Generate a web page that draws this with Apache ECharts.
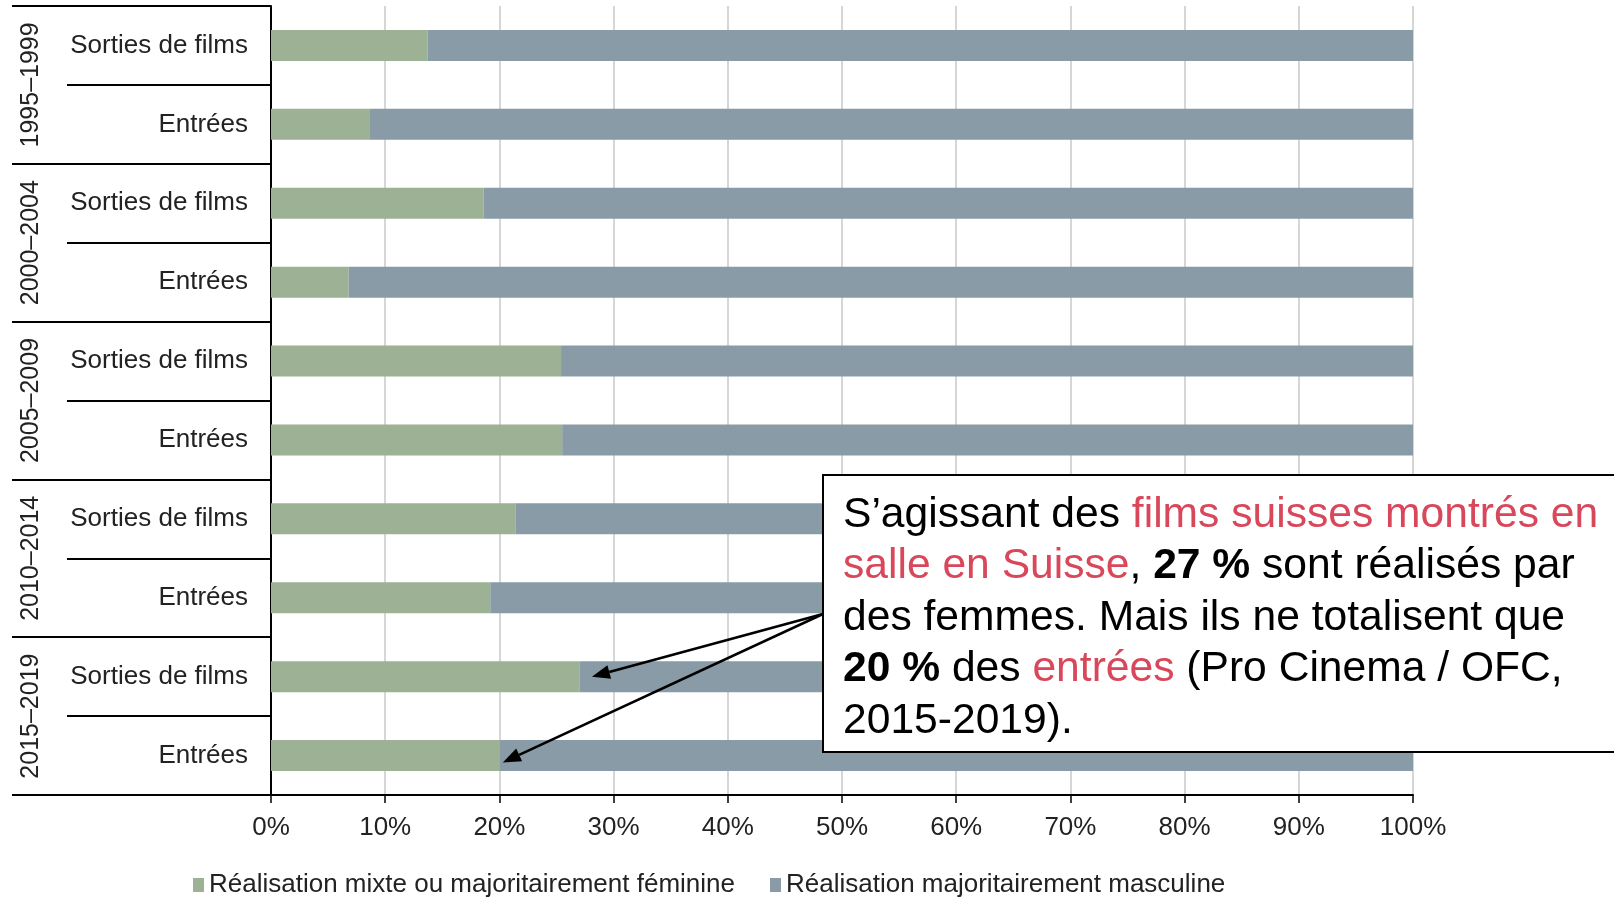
<!DOCTYPE html>
<html>
<head>
<meta charset="utf-8">
<script src="https://cdn.jsdelivr.net/npm/echarts@6/dist/echarts.min.js"></script>
<style>
  html, body { margin: 0; padding: 0; background: #fff; }
  #chart { width: 1614px; height: 897px; }
</style>
</head>
<body>
<div id="chart"></div>
<script>
// categories, top to bottom
var groups = ['1995–1999', '2000–2004', '2005–2009', '2010–2014', '2015–2019'];
var rows = ['Sorties de films', 'Entrées', 'Sorties de films', 'Entrées', 'Sorties de films',
            'Entrées', 'Sorties de films', 'Entrées', 'Sorties de films', 'Entrées'];
// share in %
var feminine = [13.7, 8.6, 18.6, 6.8, 25.4, 25.5, 21.4, 19.2, 27.0, 20.0];
var masculine = [86.3, 91.4, 81.4, 93.2, 74.6, 74.5, 78.6, 80.8, 73.0, 80.0];
var seriesNames = ['Réalisation mixte ou majoritairement féminine', 'Réalisation majoritairement masculine'];
var xTicks = [0, 10, 20, 30, 40, 50, 60, 70, 80, 90, 100];

var FONT = '"Liberation Sans", Arial, sans-serif';
var rowIds = rows.map(function (r, i) { return i; });

var chart = echarts.init(document.getElementById('chart'));

var option = {
  animation: false,
  textStyle: { fontFamily: FONT },
  grid: { left: 271, right: 201, top: 6, bottom: 102, containLabel: false },
  legend: {
    left: 188, top: 867,
    itemWidth: 11, itemHeight: 14, itemGap: 35,
    icon: 'rect',
    textStyle: { fontSize: 26, color: '#222', fontFamily: FONT },
    data: seriesNames
  },
  xAxis: {
    type: 'value', min: xTicks[0], max: xTicks[xTicks.length - 1], interval: 10,
    axisLine: { show: true, lineStyle: { color: '#000', width: 2 } },
    axisTick: { show: true, length: 8, lineStyle: { color: '#000', width: 1.5 } },
    axisLabel: { formatter: '{value}%', fontSize: 26, color: '#222', margin: 20, fontFamily: FONT },
    splitLine: { show: true, lineStyle: { color: '#d6d6d6', width: 2 } }
  },
  yAxis: [{
    type: 'category', inverse: true, data: rowIds, position: 'left',
    axisLine: { show: true, onZero: false, lineStyle: { color: '#000', width: 2 } },
    axisTick: { show: true, length: 204, interval: 0, lineStyle: { color: '#000', width: 2 } },
    axisLabel: {
      fontSize: 26, color: '#222', margin: 23, fontFamily: FONT, padding: [6, 0, 0, 0], interval: 0,
      formatter: function (v) { return rows[v]; }
    }
  }, {
    type: 'category', inverse: true, data: groups, position: 'left', offset: 0,
    axisLine: { show: false },
    axisTick: { show: true, length: 259, interval: 0, lineStyle: { color: '#000', width: 2 } },
    axisLabel: { rotate: 90, fontSize: 25, color: '#222', margin: 227, fontFamily: FONT, interval: 0 }
  }],
  series: [{
    name: seriesNames[0], type: 'bar', stack: 'total', yAxisIndex: 0,
    barWidth: 31, itemStyle: { color: '#9db194' }, data: feminine
  }, {
    name: seriesNames[1], type: 'bar', stack: 'total', yAxisIndex: 0,
    barWidth: 31, itemStyle: { color: '#889ba6' }, data: masculine
  }]
};

chart.setOption(option);

// annotation box with arrows pointing to the 2015-2019 bars
var boxX = 823, boxY = 475, boxH = 277;
var start = [boxX, 614];
var tip1 = chart.convertToPixel({ xAxisIndex: 0, yAxisIndex: 0 }, [28.1, 8]);
var tip2 = chart.convertToPixel({ xAxisIndex: 0, yAxisIndex: 0 }, [20.3, 9]);
tip2[1] += 7;

function arrow(id, from, to) {
  var dx = to[0] - from[0], dy = to[1] - from[1];
  var len = Math.sqrt(dx * dx + dy * dy);
  var ux = dx / len, uy = dy / len;
  var hl = 18, hw = 7;
  var bx = to[0] - ux * hl, by = to[1] - uy * hl;
  return [{
    type: 'line', id: id + 'l', z: 110,
    shape: { x1: from[0], y1: from[1], x2: bx, y2: by },
    style: { stroke: '#000', lineWidth: 2.5 }
  }, {
    type: 'polygon', id: id + 'h', z: 110,
    shape: { points: [[to[0], to[1]], [bx - uy * hw, by + ux * hw], [bx + uy * hw, by - ux * hw]] },
    style: { fill: '#000' }
  }];
}

var graphics = [{
  type: 'rect', id: 'box', z: 100,
  shape: { x: boxX, y: boxY, width: 820, height: boxH },
  style: { fill: '#fff', stroke: '#000', lineWidth: 2 }
}, {
  type: 'text', id: 'note', z: 101,
  x: 843, y: 489,
  style: {
    text: 'S’agissant des {r|films suisses montrés en}\n' +
          '{r|salle en Suisse}, {b|27 %} sont réalisés par\n' +
          'des femmes. Mais ils ne totalisent que\n' +
          '{b|20 %} des {r|entrées} (Pro Cinema / OFC,\n' +
          '2015-2019).',
    fill: '#000', font: '42.6px ' + FONT, lineHeight: 51.5,
    rich: {
      r: { fill: '#d9475b', fontSize: 42.6, fontFamily: FONT, lineHeight: 51.5 },
      b: { fill: '#000', fontSize: 42.6, fontWeight: 'bold', fontFamily: FONT, lineHeight: 51.5 }
    }
  }
}].concat(arrow('a1', start, tip1)).concat(arrow('a2', start, tip2));

chart.setOption({ graphic: graphics });
</script>
</body>
</html>
